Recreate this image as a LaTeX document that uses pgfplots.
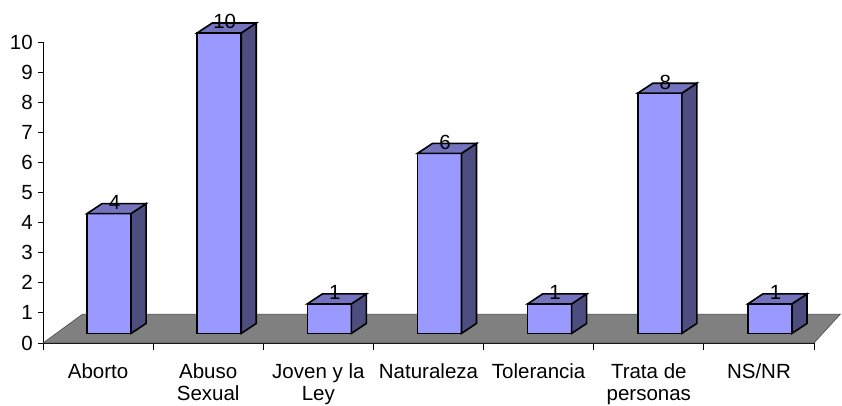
\documentclass[border=0pt]{standalone}
\usepackage{fontspec}
\setmainfont{Liberation Sans}
\usepackage{pgfplots}
\pgfplotsset{compat=1.18}
\definecolor{barfront}{RGB}{153,153,255}
\definecolor{barside}{RGB}{77,77,128}
\definecolor{bartop}{RGB}{115,115,191}
\definecolor{floorgray}{RGB}{128,128,128}
\begin{document}
\begin{tikzpicture}
\useasboundingbox (-43pt,-63pt) rectangle (799pt,343pt);
\begin{axis}[
  at={(0,0)}, anchor=south west,
  scale only axis, width=771pt, height=301pt,
  xmin=-0.5, xmax=6.5, ymin=0, ymax=10,
  clip=false,
  axis lines*=left,
  axis line style={black, line width=0.8pt},
  /pgf/number format/assume math mode=true,
  tick label style={font=\fontsize{20.5}{22.5}\selectfont, black},
  ytick={0,1,...,10},
  xtick={0,...,6},
  xticklabels={Aborto,{Abuso\\Sexual},{Joven y la\\Ley},Naturaleza,Tolerancia,{Trata de\\personas},NS/NR},
  xticklabel style={align=center, anchor=north, inner sep=0pt, yshift=-15pt},
  yticklabel style={anchor=east, inner sep=0pt, xshift=-5pt},
  minor xtick={-0.5,0.5,...,6.5},
  tick align=outside,
  major tick length=5pt,
  minor tick length=7pt,
  major x tick style={draw=none},
  every tick/.style={black, line width=0.8pt},
  minor tick style={black, line width=0.8pt},
  major y tick style={black, line width=0.8pt},
]
% floor
\addplot[draw=black!70, line width=0.6pt, fill=floorgray] coordinates {(-0.5,0) (6.5,0) (6.74,0.96) (-0.14,0.96)} -- cycle;
% bar 1: Aborto = 4
\addplot[draw=black, line width=1.6pt, fill=barfront] coordinates {(-0.1,0.32) (0.3,0.32) (0.3,4.3) (-0.1,4.3)} -- cycle;
\addplot[draw=black, line width=1.6pt, fill=barside] coordinates {(0.3,0.32) (0.436,0.65) (0.436,4.63) (0.3,4.3)} -- cycle;
\addplot[draw=black, line width=1.6pt, fill=bartop] coordinates {(-0.1,4.3) (0.3,4.3) (0.436,4.63) (0.036,4.63)} -- cycle;
% bar 2: Abuso Sexual = 10
\addplot[draw=black, line width=1.6pt, fill=barfront] coordinates {(0.9,0.32) (1.3,0.32) (1.3,10.3) (0.9,10.3)} -- cycle;
\addplot[draw=black, line width=1.6pt, fill=barside] coordinates {(1.3,0.32) (1.436,0.65) (1.436,10.63) (1.3,10.3)} -- cycle;
\addplot[draw=black, line width=1.6pt, fill=bartop] coordinates {(0.9,10.3) (1.3,10.3) (1.436,10.63) (1.036,10.63)} -- cycle;
% bar 3: Joven y la Ley = 1
\addplot[draw=black, line width=1.6pt, fill=barfront] coordinates {(1.9,0.32) (2.3,0.32) (2.3,1.3) (1.9,1.3)} -- cycle;
\addplot[draw=black, line width=1.6pt, fill=barside] coordinates {(2.3,0.32) (2.436,0.65) (2.436,1.63) (2.3,1.3)} -- cycle;
\addplot[draw=black, line width=1.6pt, fill=bartop] coordinates {(1.9,1.3) (2.3,1.3) (2.436,1.63) (2.036,1.63)} -- cycle;
% bar 4: Naturaleza = 6
\addplot[draw=black, line width=1.6pt, fill=barfront] coordinates {(2.9,0.32) (3.3,0.32) (3.3,6.3) (2.9,6.3)} -- cycle;
\addplot[draw=black, line width=1.6pt, fill=barside] coordinates {(3.3,0.32) (3.436,0.65) (3.436,6.63) (3.3,6.3)} -- cycle;
\addplot[draw=black, line width=1.6pt, fill=bartop] coordinates {(2.9,6.3) (3.3,6.3) (3.436,6.63) (3.036,6.63)} -- cycle;
% bar 5: Tolerancia = 1
\addplot[draw=black, line width=1.6pt, fill=barfront] coordinates {(3.9,0.32) (4.3,0.32) (4.3,1.3) (3.9,1.3)} -- cycle;
\addplot[draw=black, line width=1.6pt, fill=barside] coordinates {(4.3,0.32) (4.436,0.65) (4.436,1.63) (4.3,1.3)} -- cycle;
\addplot[draw=black, line width=1.6pt, fill=bartop] coordinates {(3.9,1.3) (4.3,1.3) (4.436,1.63) (4.036,1.63)} -- cycle;
% bar 6: Trata de personas = 8
\addplot[draw=black, line width=1.6pt, fill=barfront] coordinates {(4.9,0.32) (5.3,0.32) (5.3,8.3) (4.9,8.3)} -- cycle;
\addplot[draw=black, line width=1.6pt, fill=barside] coordinates {(5.3,0.32) (5.436,0.65) (5.436,8.63) (5.3,8.3)} -- cycle;
\addplot[draw=black, line width=1.6pt, fill=bartop] coordinates {(4.9,8.3) (5.3,8.3) (5.436,8.63) (5.036,8.63)} -- cycle;
% bar 7: NS/NR = 1
\addplot[draw=black, line width=1.6pt, fill=barfront] coordinates {(5.9,0.32) (6.3,0.32) (6.3,1.3) (5.9,1.3)} -- cycle;
\addplot[draw=black, line width=1.6pt, fill=barside] coordinates {(6.3,0.32) (6.436,0.65) (6.436,1.63) (6.3,1.3)} -- cycle;
\addplot[draw=black, line width=1.6pt, fill=bartop] coordinates {(5.9,1.3) (6.3,1.3) (6.436,1.63) (6.036,1.63)} -- cycle;
% value labels
\addplot[draw=none, mark=none, point meta=explicit,
  nodes near coords={\pgfmathprintnumber{\pgfplotspointmeta}},
  every node near coord/.style={anchor=center, inner sep=0pt, black, font=\fontsize{20.5}{22.5}\selectfont, /pgf/number format/assume math mode=true}]
  coordinates {(0.15,4.67) [4] (1.15,10.67) [10] (2.15,1.67) [1] (3.15,6.67) [6] (4.15,1.67) [1] (5.15,8.67) [8] (6.15,1.67) [1]};
\end{axis}
\end{tikzpicture}
\end{document}
